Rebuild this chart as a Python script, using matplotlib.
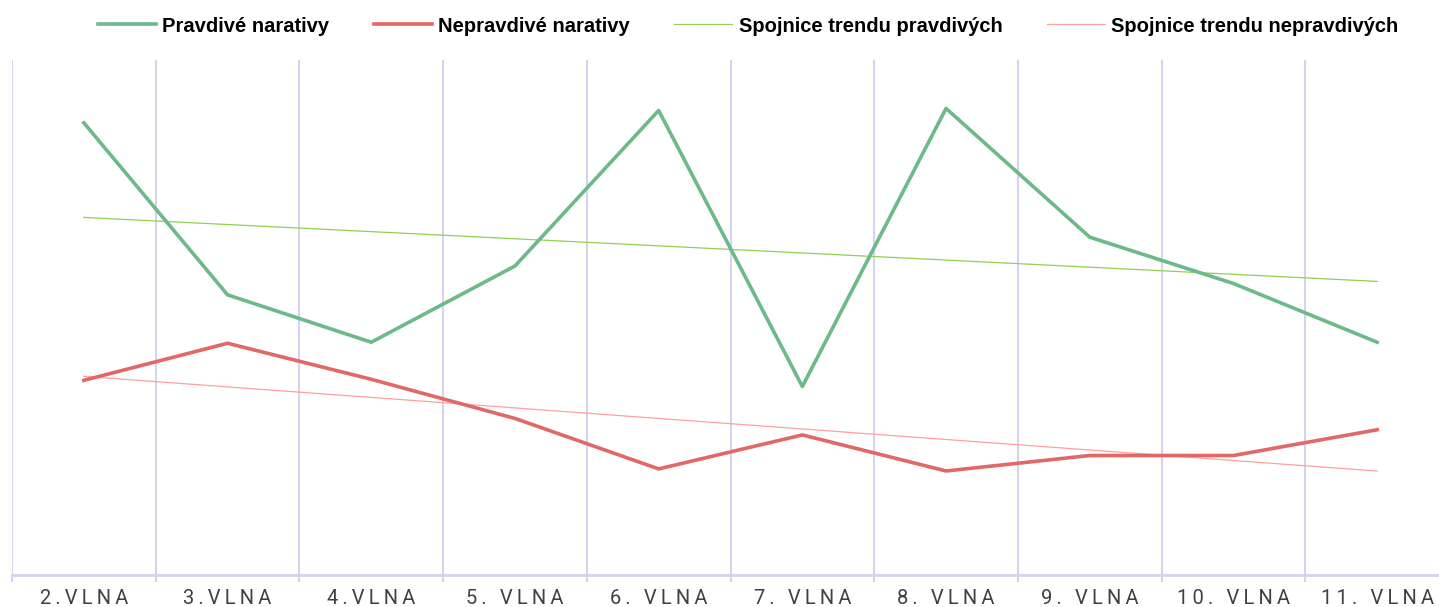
import matplotlib.pyplot as plt
import numpy as np

plt.rcParams['font.family'] = ['Liberation Sans', 'DejaVu Sans']

waves = ['2.VLNA', '3.VLNA', '4.VLNA', '5. VLNA', '6. VLNA',
         '7. VLNA', '8. VLNA', '9. VLNA', '10. VLNA', '11. VLNA']
true_vals = [43.9, 27.2, 22.6, 30.0, 45.1, 18.3, 45.3, 32.8, 28.3, 22.6]
false_vals = [18.9, 22.5, 19.0, 15.2, 10.3, 13.6, 10.1, 11.6, 11.6, 14.1]

c_true = '#6cb98a'
c_false = '#e26868'
c_true_trend = '#92d050'
c_false_trend = '#ff9f9f'
c_grid = '#d4d4f0'


def spaced(s):
    # mimic the letter spacing of the original labels
    return '\u2009'.join(s)


x = np.arange(len(waves))

fig = plt.figure(figsize=(14.39, 6.07), dpi=100)
ax = fig.add_axes([12 / 1439, 32 / 607, 1437 / 1439, 515 / 607])

for b in np.arange(-0.5, len(waves), 1.0):
    ax.axvline(b, color=c_grid, lw=1.5, zorder=0)

ax.plot(x, true_vals, color=c_true, lw=2.6, label='Pravdivé narativy', zorder=3)
ax.plot(x, false_vals, color=c_false, lw=2.6, label='Nepravdivé narativy', zorder=3)

k, q = np.polyfit(x, true_vals, 1)
ax.plot(x, k * x + q, color=c_true_trend, lw=0.9, label='Spojnice trendu pravdivých', zorder=2)
k, q = np.polyfit(x, false_vals, 1)
ax.plot(x, k * x + q, color=c_false_trend, lw=0.9, label='Spojnice trendu nepravdivých', zorder=2)

ax.set_xlim(-0.5, len(waves) - 0.5)
ax.set_ylim(0, 50)
ax.set_yticks([])
ax.set_xticks(np.arange(-0.5, len(waves), 1.0))
ax.set_xticklabels([])
ax.set_xticks(x, minor=True)
ax.set_xticklabels([spaced(w) for w in waves], minor=True, fontsize=14.5,
                   color='#404040', family=['Roboto', 'DejaVu Sans'])
ax.tick_params(axis='x', which='major', length=5, width=1.5, color=c_grid)
ax.tick_params(axis='x', which='minor', length=0, pad=10)

for s in ['top', 'right', 'left']:
    ax.spines[s].set_visible(False)
ax.spines['bottom'].set_color(c_grid)
ax.spines['bottom'].set_linewidth(2)

fig.legend(loc='center', bbox_to_anchor=(748 / 1439, 1 - 26 / 607), ncol=4, frameon=False,
           prop={'weight': 'bold', 'size': 14.5}, handlelength=2.9, columnspacing=2.2,
           handletextpad=0.3)

fig.savefig('out.png', dpi=100)
